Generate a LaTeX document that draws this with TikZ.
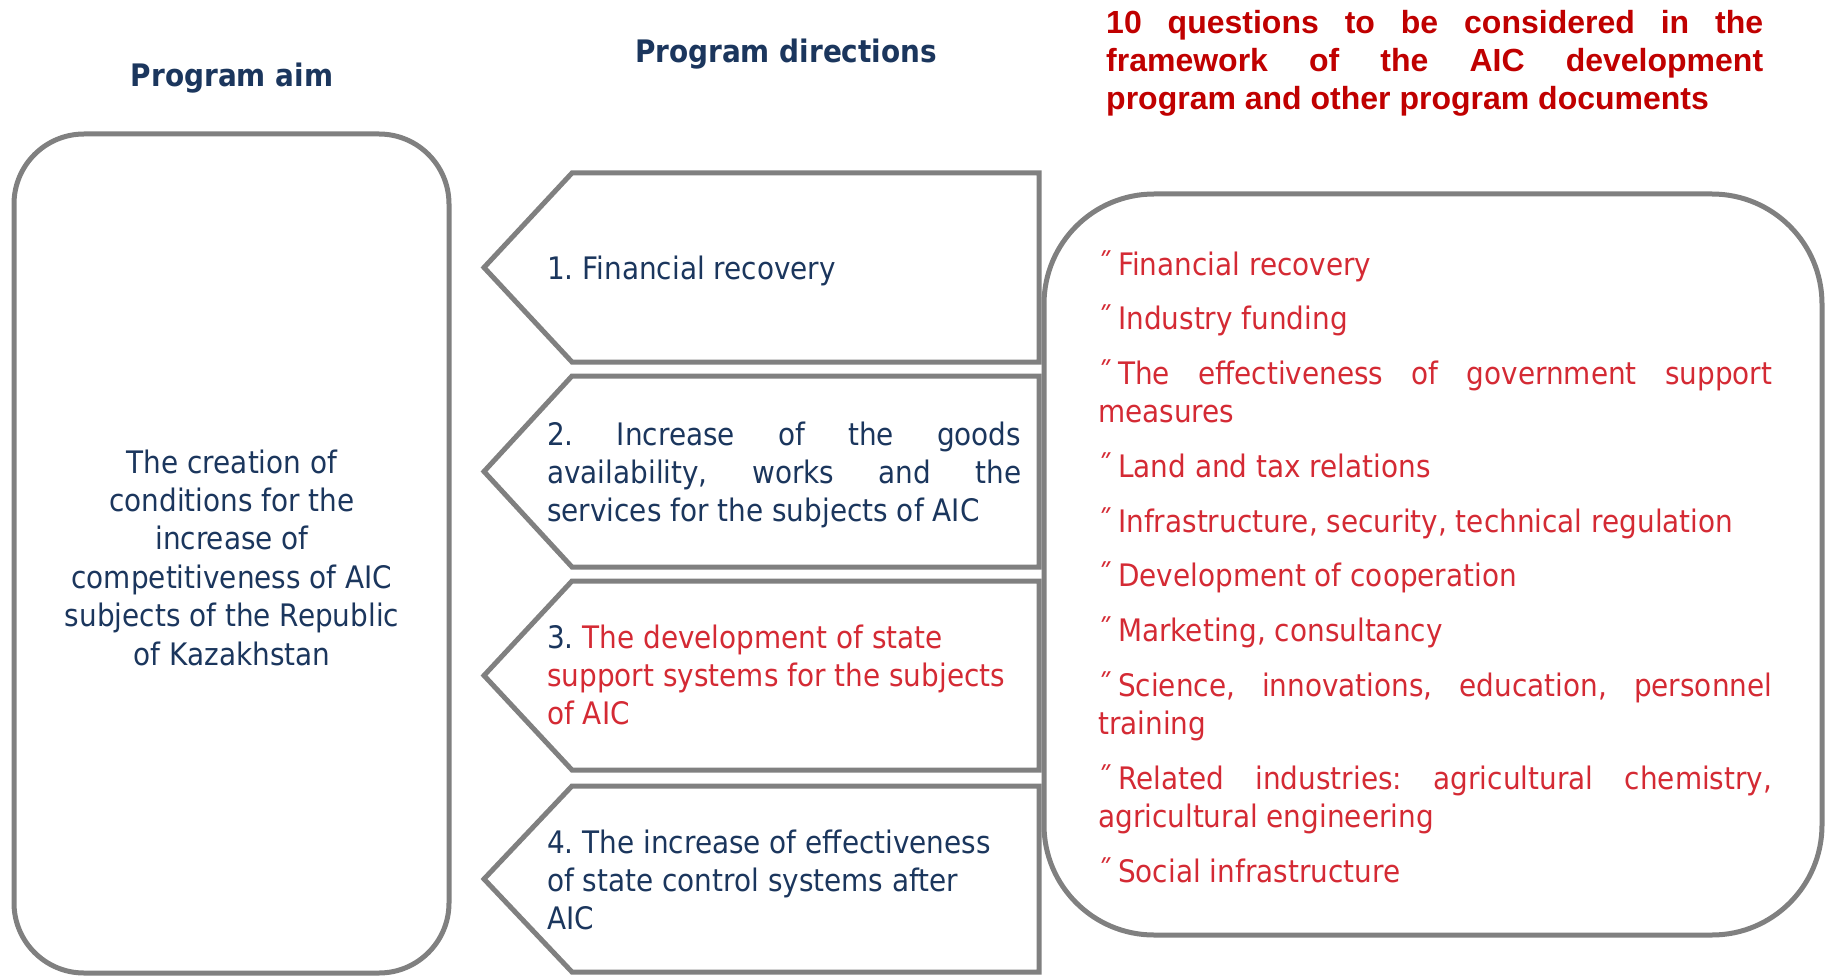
\documentclass[tikz,border=0pt]{standalone}
\usepackage{fontspec}
\setmainfont{DejaVu Sans}[FakeStretch=0.9]
\newfontfamily\headfont{Liberation Sans}
\definecolor{navy}{HTML}{1B365D}
\definecolor{qred}{HTML}{D42A34}
\definecolor{hred}{HTML}{C00000}
\definecolor{frame}{HTML}{808080}
\newcommand{\qmark}{˝\kern6pt}
\frenchspacing

\begin{document}
\begin{tikzpicture}[x=1pt,y=-1pt,
    outline/.style={draw=frame,line width=5pt},
    body/.style={inner sep=0pt,anchor=north west,text=navy,
                 font=\fontsize{31}{38.4}\selectfont},
    heading/.style={inner sep=0pt,anchor=base,text=navy,
                 font=\fontsize{31}{38.4}\selectfont\bfseries}]
\useasboundingbox (0,0) rectangle (1825,976);

% headings
\node[heading] (aimhead) at (232,87) {Program aim};
\node[heading] (dirhead) at (786,63) {Program directions};
\node[inner sep=0pt,anchor=north west,text=hred,text width=657pt,align=justify,
      font=\headfont\fontsize{32}{38.4}\selectfont\bfseries] (qhead) at (1106,6)
    {\strut 10 questions to be considered in the\linebreak
     framework of the AIC development\linebreak
     program and other program documents};

% frames
\draw[outline,rounded corners=70pt] (14,134) rectangle (449,973);
\foreach \t/\b in {173/362,376/567,581/770,786/972}
    \draw[outline] (484,{(\t+\b)/2}) -- (572,\t) -- (1039,\t) -- (1039,\b) -- (572,\b) -- cycle;
\draw[outline,rounded corners=110pt] (1044,194) rectangle (1822,935);

% program aim
\node[body,anchor=north,align=center] (aim) at (232,446)
    {\strut The creation of\\conditions for the\\increase of\\competitiveness of AIC\\
     subjects of the Republic\\of Kazakhstan};

% program directions
\node[body] (dir1) at (547,252) {\strut 1. Financial recovery};
\node[body,text width=474pt,align=justify] (dir2) at (547,418)
    {\strut 2. Increase of the goods\linebreak availability, works and the\linebreak
     services for the subjects of AIC};
\node[body,text=qred,align=left] (dir3) at (547,621)
    {\strut\textcolor{navy}{3.} The development of state\\support systems for the subjects\\of AIC};
\node[body,align=left] (dir4) at (547,826)
    {\strut 4. The increase of effectiveness\\of state control systems after\\AIC};

% questions
\node[body,text=qred,text width=674pt,align=justify] (questions) at (1098,248)
    {\setlength{\parindent}{0pt}\setlength{\parskip}{16.3pt}%
     \strut\qmark Financial recovery\par
     \qmark Industry funding\par
     \qmark The effectiveness of government support\linebreak measures\par
     \qmark Land and tax relations\par
     \qmark Infrastructure, security, technical regulation\par
     \qmark Development of cooperation\par
     \qmark Marketing, consultancy\par
     \qmark Science, innovations, education, personnel\linebreak training\par
     \qmark Related industries: agricultural chemistry,\linebreak agricultural engineering\par
     \qmark Social infrastructure};
\end{tikzpicture}
\end{document}
